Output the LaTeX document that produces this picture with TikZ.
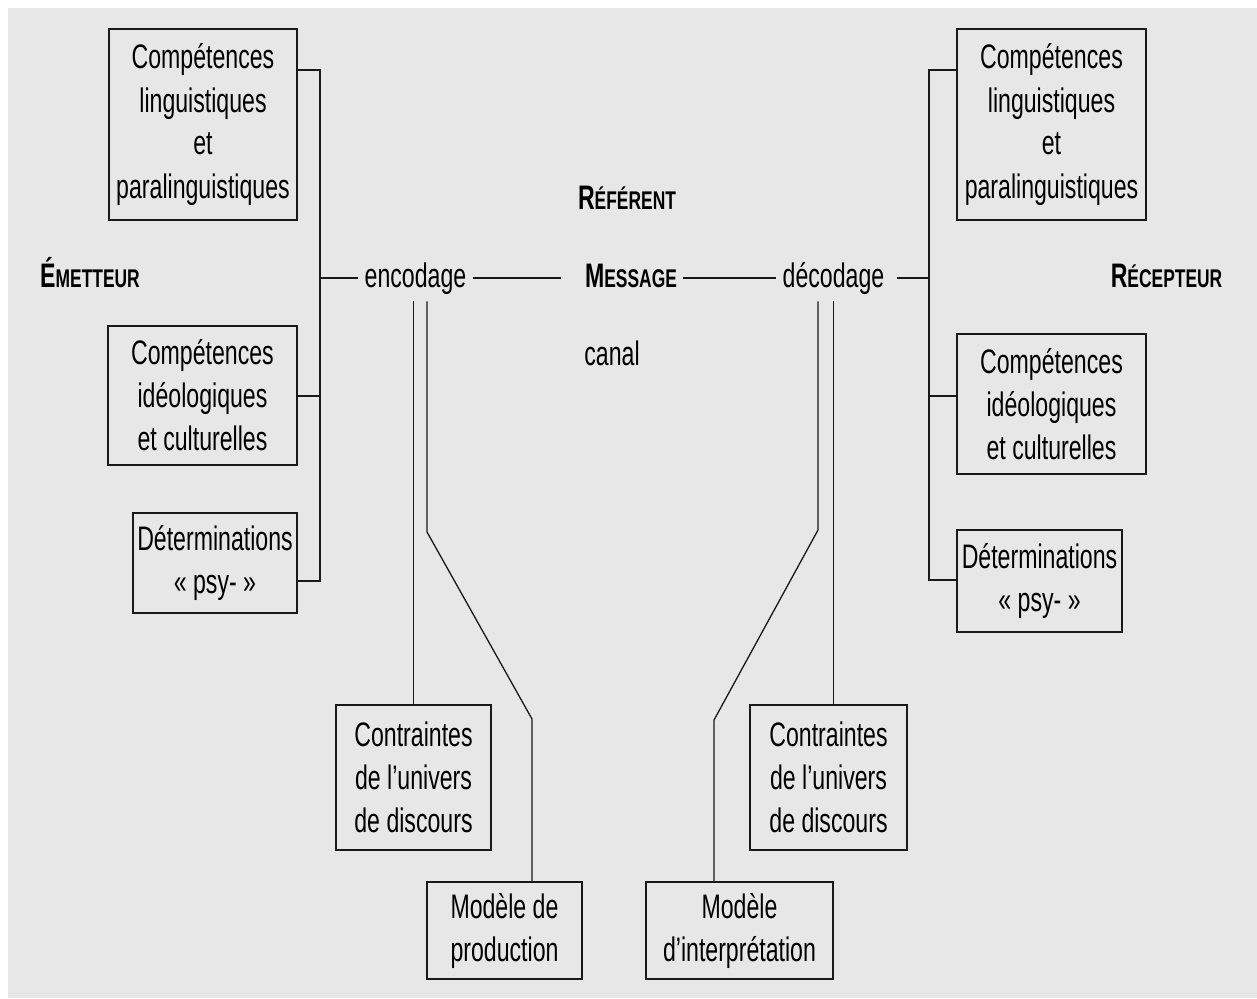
\documentclass[tikz,border=0pt]{standalone}
\usepackage{fontspec}
\setmainfont[FakeStretch=0.68]{Liberation Sans}
\definecolor{paper}{RGB}{231,231,231}
\definecolor{ink}{RGB}{25,25,25}
\newcommand{\boxfont}{\fontsize{17}{21.5}\selectfont}
\newcommand{\caplab}[2]{\textbf{#1{\fontsize{12.8}{12.8}\selectfont #2}}}

\begin{document}
\begin{tikzpicture}[x=0.5pt,y=-0.5pt,
    bx/.style={draw=ink,line width=0.8pt,align=center,inner sep=0pt,font=\boxfont},
    lab/.style={inner sep=3pt,text height=13pt,text depth=4pt,font=\boxfont},
    brace/.style={draw=ink,line width=1.1pt},
    link/.style={draw=ink,line width=0.65pt}]
  \useasboundingbox (0,0) rectangle (1257,998);
  \fill[paper] (8,8) rectangle (1257,998);

  \node[bx,minimum width=94pt,minimum height=95.5pt] (ling-e) at (203,124.5) {Compétences\\linguistiques\\et\\paralinguistiques};
  \node[bx,minimum width=94.5pt,minimum height=69.5pt] (ideo-e) at (202.5,395.5) {Compétences\\idéologiques\\et culturelles};
  \node[bx,minimum width=82pt,minimum height=50pt] (psy-e) at (215,563) {Déterminations\\« psy- »};
  \node[bx,minimum width=94.5pt,minimum height=95.5pt] (ling-r) at (1051.5,124.5) {Compétences\\linguistiques\\et\\paralinguistiques};
  \node[bx,minimum width=94.5pt,minimum height=70pt] (ideo-r) at (1051.5,404) {Compétences\\idéologiques\\et culturelles};
  \node[bx,minimum width=82.5pt,minimum height=51pt] (psy-r) at (1039.5,581) {Déterminations\\« psy- »};
  \node[bx,minimum width=77.5pt,minimum height=72.5pt] (contr-e) at (413.5,777.5) {Contraintes\\de l’univers\\de discours};
  \node[bx,minimum width=77.5pt,minimum height=48.5pt] (prod) at (504.5,930.5) {Modèle de\\production};
  \node[bx,minimum width=78.5pt,minimum height=72.5pt] (contr-r) at (828.5,777.5) {Contraintes\\de l’univers\\de discours};
  \node[bx,minimum width=93.5pt,minimum height=48.5pt] (interp) at (739.5,930.5) {Modèle\\d’interprétation};

  \node[lab] (emet) at (90,278) {\caplab{É}{METTEUR}};
  \node[lab] (refer) at (627,200) {\caplab{R}{ÉFÉRENT}};
  \node[lab] (msg) at (631,278) {\caplab{M}{ESSAGE}};
  \node[lab,anchor=west] (canal) at (578,356) {canal};
  \node[lab] (enc) at (415.5,278) {encodage};
  \node[lab] (dec) at (833.5,278) {décodage};
  \node[lab] (recep) at (1166.5,278) {\caplab{R}{ÉCEPTEUR}};

  \coordinate (fe) at (320,278);
  \coordinate (fr) at (929,278);
  \draw[brace] (ling-e.east |- 0,70) -| (fe) |- (psy-e.east |- 0,581);
  \draw[brace] (ideo-e.east |- 0,396) -- (fe |- 0,396);
  \draw[brace] (ling-r.west |- 0,70) -| (fr) |- (psy-r.west |- 0,580);
  \draw[brace] (ideo-r.west |- 0,396) -- (fr |- 0,396);

  \draw[link] (fe) -- (enc.west);
  \draw[link,shorten >=9pt] (enc.east) -- (msg.west);
  \draw[link] (msg.east) -- (dec.west);
  \draw[link,shorten <=3pt] (dec.east) -- (fr);

  \coordinate (benc) at (427,532);
  \coordinate (kenc) at (532,719);
  \draw[link] (contr-e.north |- enc.south) -- (contr-e.north);
  \draw[link] (benc |- enc.south) -- (benc) -- (kenc) -- (kenc |- prod.north);
  \coordinate (bdec) at (818,530);
  \coordinate (kdec) at (714,720);
  \draw[link] (dec.south) -- (dec.south |- contr-r.north);
  \draw[link] (bdec |- dec.south) -- (bdec) -- (kdec) -- (kdec |- interp.north);
\end{tikzpicture}
\end{document}
